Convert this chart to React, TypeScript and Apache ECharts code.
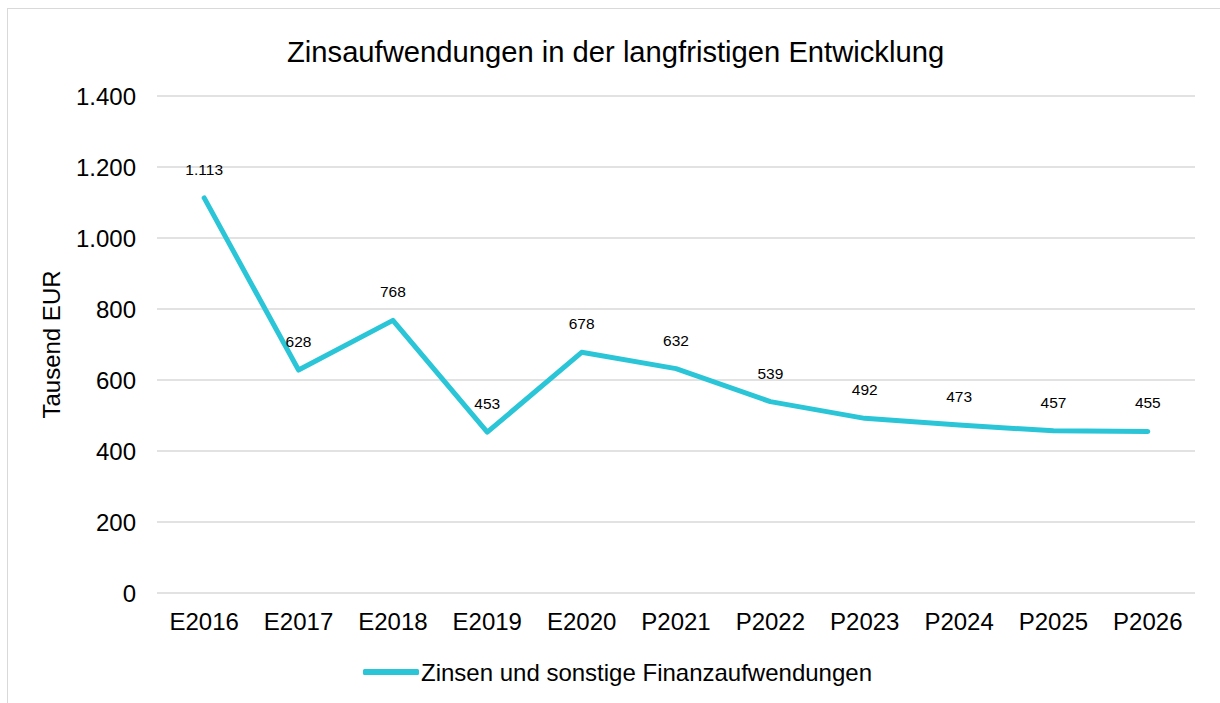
import React, { useEffect, useRef } from "react";
import * as echarts from "echarts";

const categories = ["E2016", "E2017", "E2018", "E2019", "E2020", "P2021", "P2022", "P2023", "P2024", "P2025", "P2026"];
const values = [1113, 628, 768, 453, 678, 632, 539, 492, 473, 457, 455];
const seriesName = "Zinsen und sonstige Finanzaufwendungen";
const titleText = "Zinsaufwendungen in der langfristigen Entwicklung";
const yAxisName = "Tausend EUR";

const fmt = (v: number) => {
  const s = Math.round(v).toString();
  return s.replace(/\B(?=(\d{3})+(?!\d))/g, ".");
};

const FONT = "'Liberation Sans', Arial, sans-serif";
const COLOR = "#2ac5d7";

export default function App() {
  const ref = useRef<HTMLDivElement>(null);
  useEffect(() => {
    document.body.style.overflow = "hidden";
    const chart = echarts.init(ref.current!, null, { renderer: "svg" });
    chart.setOption({
      animation: false,
      backgroundColor: "transparent",
      textStyle: { fontFamily: FONT },
      title: {
        text: titleText,
        left: 282,
        top: 32,
        textStyle: { fontFamily: FONT, fontSize: 29.2, fontWeight: "normal", color: "#000" },
      },
      legend: {
        bottom: 19,
        left: 363,
        padding: 0,
        itemWidth: 56,
        itemHeight: 6,
        icon: "roundRect",
        textStyle: { fontFamily: FONT, fontSize: 24, color: "#000", padding: [0, 0, 0, -3] },
        data: [{ name: seriesName, itemStyle: { color: COLOR } }],
      },
      grid: { left: 157, right: 25, top: 96, bottom: 110, containLabel: false },
      xAxis: {
        type: "category",
        data: categories,
        axisLine: { show: false },
        axisTick: { show: false },
        axisLabel: { fontFamily: FONT, fontSize: 24, color: "#000", margin: 16 },
      },
      yAxis: {
        type: "value",
        min: 0,
        max: 1400,
        interval: 200,
        name: yAxisName,
        nameLocation: "middle",
        nameRotate: 90,
        nameGap: 94,
        nameTextStyle: { fontFamily: FONT, fontSize: 24, color: "#000" },
        axisLine: { show: false },
        axisTick: { show: false },
        axisLabel: { fontFamily: FONT, fontSize: 24, color: "#000", margin: 21, formatter: (v: number) => fmt(v) },
        splitLine: { lineStyle: { color: "#d9d9d9", width: 1.5 } },
      },
      series: [
        {
          name: seriesName,
          type: "line",
          data: values,
          symbol: "circle",
          symbolSize: 1,
          showSymbol: true,
          lineStyle: { color: COLOR, width: 5, cap: "round", join: "round" },
          itemStyle: { color: COLOR },
          label: {
            show: true,
            position: "top",
            distance: 20,
            fontFamily: FONT,
            fontSize: 15.5,
            color: "#000",
            formatter: (p: any) => fmt(p.value),
          },
        },
      ],
    });
    return () => chart.dispose();
  }, []);
  return (
    <div style={{ position: "fixed", left: 0, top: 0, width: 1220, height: 703, background: "#fff" }}>
      <div
        style={{
          position: "absolute",
          left: 7,
          top: 8,
          width: 1240,
          height: 720,
          border: "1px solid #d9d9d9",
        }}
      />
      <div ref={ref} style={{ position: "absolute", left: 0, top: 0, width: 1220, height: 703 }} />
    </div>
  );
}
